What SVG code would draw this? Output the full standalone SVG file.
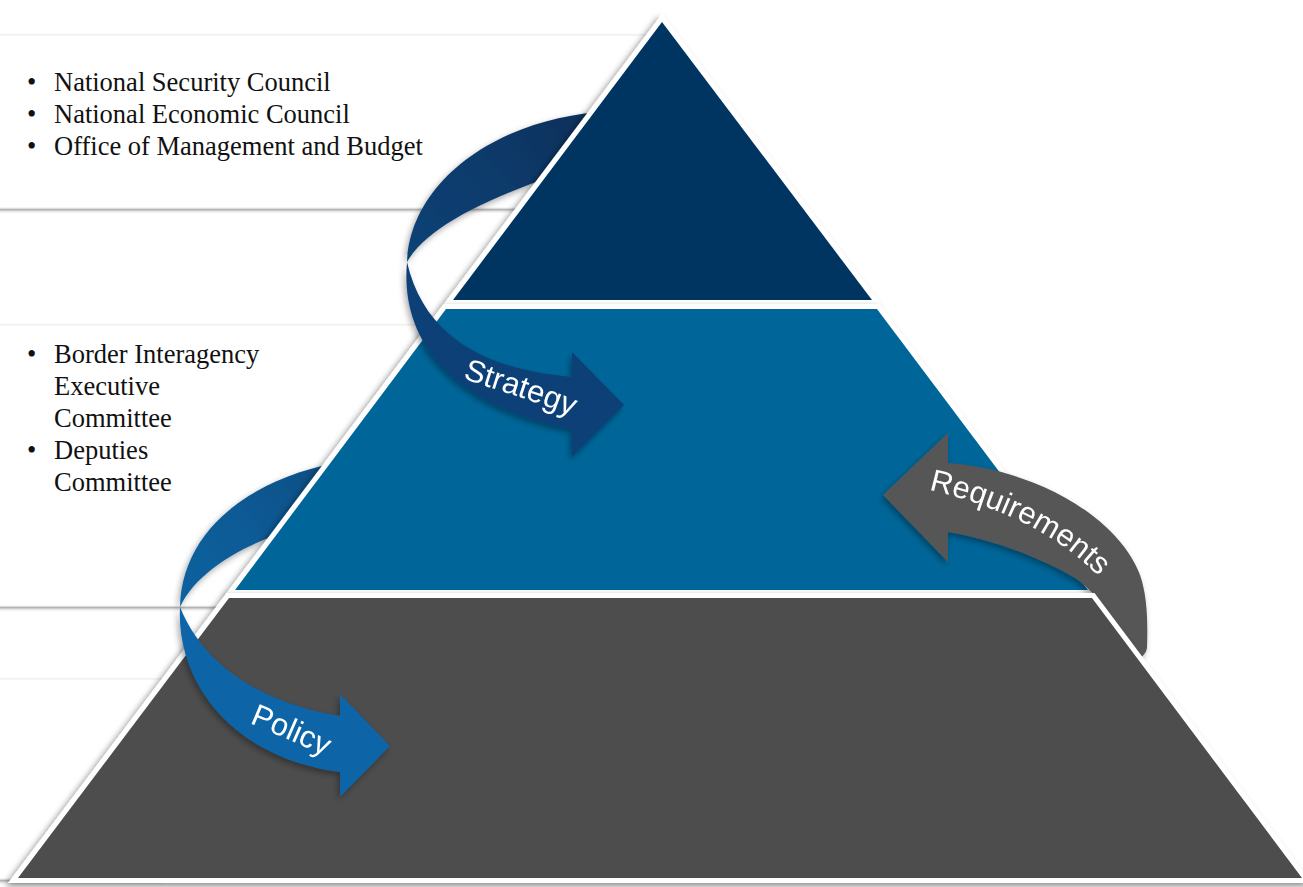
<svg xmlns="http://www.w3.org/2000/svg" width="1303" height="887" viewBox="0 0 1303 887">
<defs>
<style>
.box{fill:#ffffff;stroke:#ececec;stroke-width:1;filter:url(#boxShadow)}
.btxt{font-family:"Liberation Serif","Times New Roman",serif;font-size:26.5px;fill:#111}
.band{stroke:#ffffff;stroke-width:10;stroke-linejoin:miter;stroke-miterlimit:10;paint-order:stroke fill;filter:url(#pyrShadow)}
.lbl{font-family:"Liberation Sans",Arial,sans-serif;font-size:31px;fill:#ffffff}
.rib{filter:url(#ribShadow)}
</style>
<filter id="boxShadow" x="-5%" y="-10%" width="110%" height="130%">
<feDropShadow dx="0" dy="2" stdDeviation="1.6" flood-color="#000" flood-opacity="0.4"/>
</filter>
<filter id="pyrShadow" x="-10%" y="-10%" width="120%" height="120%">
<feDropShadow dx="-3" dy="3" stdDeviation="3" flood-color="#000" flood-opacity="0.45"/>
</filter>
<filter id="ribShadow" x="-20%" y="-20%" width="140%" height="140%">
<feDropShadow dx="-2" dy="3" stdDeviation="3" flood-color="#000" flood-opacity="0.35"/>
</filter>
<linearGradient id="gStratBack" x1="600" y1="110" x2="410" y2="262" gradientUnits="userSpaceOnUse">
<stop offset="0" stop-color="#0a2f59"/>
<stop offset="0.5" stop-color="#0c3a6b"/>
<stop offset="1" stop-color="#0e4275"/>
</linearGradient>
<linearGradient id="gPolBack" x1="335" y1="463" x2="180" y2="607" gradientUnits="userSpaceOnUse">
<stop offset="0" stop-color="#0a4d82"/>
<stop offset="0.5" stop-color="#0b5a96"/>
<stop offset="1" stop-color="#0c629f"/>
</linearGradient>
<path id="pStrat" d="M 447,373 C 487,388 537,400 587,423"/>
<path id="pPol" d="M 237,718 C 262,728 302,745 337,762"/>
<path id="pReq" d="M 920,488 C 980,500 1055,528 1105,583"/>
</defs>

<g id="box-top">
<rect class="box" x="-10" y="35" width="655" height="173"/>
<text class="btxt" x="27" y="91">•</text>
<text class="btxt" x="54" y="91">National Security Council</text>
<text class="btxt" x="27" y="123">•</text>
<text class="btxt" x="54" y="123">National Economic Council</text>
<text class="btxt" x="27" y="155">•</text>
<text class="btxt" x="54" y="155">Office of Management and Budget</text>
</g>

<g id="box-middle">
<rect class="box" x="-10" y="325" width="440" height="281"/>
<text class="btxt" x="27" y="363">•</text>
<text class="btxt" x="54" y="363">Border Interagency</text>
<text class="btxt" x="54" y="395">Executive</text>
<text class="btxt" x="54" y="427">Committee</text>
<text class="btxt" x="27" y="459">•</text>
<text class="btxt" x="54" y="459">Deputies</text>
<text class="btxt" x="54" y="491">Committee</text>
</g>

<g id="box-bottom">
<rect class="box" x="-10" y="679" width="173" height="200"/>
</g>

<g id="connectors">
<g id="strategy-back" class="rib">
<path d="M 598,112 C 490,122 410,185 407,262 C 425,230 480,200 565,172 Z" fill="url(#gStratBack)"/>
</g>
<g id="policy-back" class="rib">
<path d="M 335,463 C 250,480 182,530 180,607 C 195,575 235,548 290,530 Z" fill="url(#gPolBack)"/>
</g>
</g>

<g id="tier-top">
<polygon class="band" points="662,22 872,300 453,300" fill="#003462"/>
</g>
<g id="tier-middle">
<polygon class="band" points="446,309 877,309 1088,590 235,590" fill="#006699"/>
</g>

<g id="strategy-arrow" class="rib">
<path d="M 407,262 C 400,340 450,405 572,430 L 572,457 L 624,405 L 572,352 L 572,377 C 490,370 425,340 407,262 Z" fill="#0c4077"/>
<text class="lbl"><textPath href="#pStrat" startOffset="50%" text-anchor="middle">Strategy</textPath></text>
</g>

<g id="requirements-arrow" class="rib">
<path d="M 948,463 C 1040,470 1120,520 1140,575 C 1147,595 1148,620 1147,648 Q 1145,660 1125,662 C 1118,625 1100,595 1075,578 C 1040,558 995,540 948,532 L 948,562 L 883,495 L 948,433 Z" fill="#575757"/>
<text class="lbl"><textPath href="#pReq" startOffset="50%" text-anchor="middle">Requirements</textPath></text>
</g>

<g id="tier-bottom">
<polygon class="band" points="229,598 1092,598 1302,878 18,878" fill="#4d4d4d"/>
</g>

<g id="policy-arrow" class="rib">
<path d="M 180,607 C 176,680 230,758 340,772 L 340,797 L 390,746 L 340,694 L 340,716 C 270,705 205,670 180,607 Z" fill="#0a65a8"/>
<text class="lbl"><textPath href="#pPol" startOffset="50%" text-anchor="middle">Policy</textPath></text>
</g>
</svg>
